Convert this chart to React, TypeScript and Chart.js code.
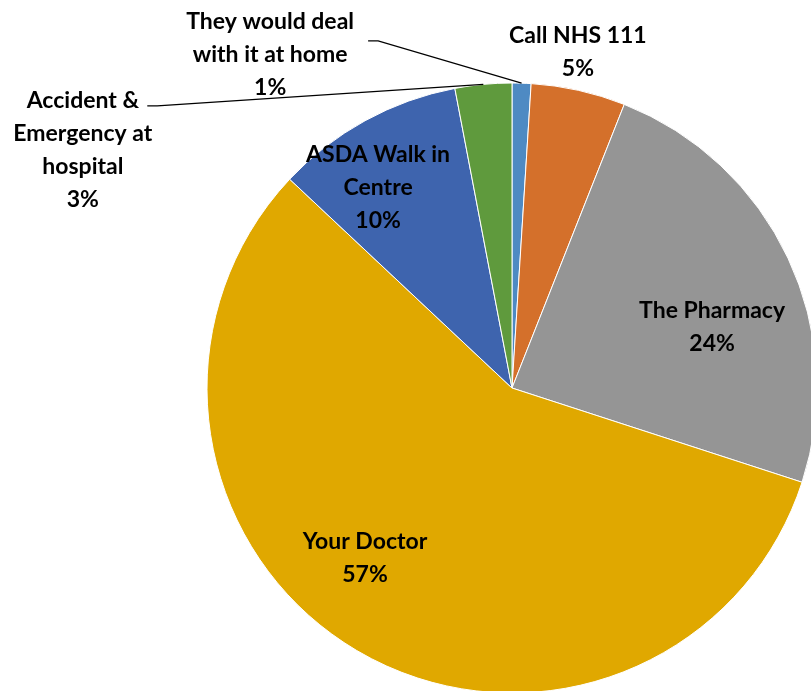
import React, { useEffect, useRef } from "react";
import { Chart, registerables } from "chart.js";

Chart.register(...registerables);

const categories = [
  "They would deal with it at home",
  "Call NHS 111",
  "The Pharmacy",
  "Your Doctor",
  "ASDA Walk in Centre",
  "Accident & Emergency at hospital",
];
const values = [1, 5, 24, 57, 10, 3];
const labelLines = [
  ["They would deal", "with it at home", "1%"],
  ["Call NHS 111", "5%"],
  ["The Pharmacy", "24%"],
  ["Your Doctor", "57%"],
  ["ASDA Walk in", "Centre", "10%"],
  ["Accident &", "Emergency at", "hospital", "3%"],
];
const colors = ["#4E8AC3", "#D4702B", "#959595", "#E0A800", "#3E64AE", "#5F9A3D"];

// label layout (fractions of radius relative to pie centre)
const labelPos = [
  { x: -0.793, y: -1.092, lx: -0.439, ly: -1.138, side: -1 },
  { x: 0.216, y: -1.102 },
  { x: 0.656, y: -0.2 },
  { x: -0.482, y: 0.557 },
  { x: -0.439, y: -0.656 },
  { x: -1.407, y: -0.78, lx: -1.163, ly: -0.925, side: -1 },
];

const labelPlugin = {
  id: "pieLabels",
  afterDatasetsDraw(chart: any) {
    const ctx = chart.ctx;
    const meta = chart.getDatasetMeta(0);
    ctx.save();
    meta.data.forEach((arc: any, i: number) => {
      const { x: cx, y: cy, outerRadius: r, startAngle, endAngle } = arc.getProps(
        ["x", "y", "outerRadius", "startAngle", "endAngle"],
        true
      );
      const p = labelPos[i];
      if (p.lx !== undefined) {
        const mid = (startAngle + endAngle) / 2;
        const ex = cx + Math.cos(mid) * r;
        const ey = cy + Math.sin(mid) * r;
        const sx = cx + p.lx * r;
        const sy = cy + p.ly * r;
        ctx.beginPath();
        ctx.strokeStyle = "#000";
        ctx.lineWidth = 1.2;
        ctx.moveTo(sx - 10, sy);
        ctx.lineTo(sx, sy);
        ctx.lineTo(ex, ey);
        ctx.stroke();
      }
      const lines = labelLines[i];
      const lh = 33;
      const tx = cx + p.x * r;
      const ty = cy + p.y * r;
      ctx.fillStyle = "#000";
      ctx.font = "bold 23px Lato, 'Open Sans', sans-serif";
      ctx.textAlign = "center";
      ctx.textBaseline = "middle";
      lines.forEach((t, k) => {
        ctx.fillText(t, tx, ty + (k - (lines.length - 1) / 2) * lh);
      });
    });
    ctx.restore();
  },
};

export default function App() {
  const ref = useRef<HTMLCanvasElement>(null);
  useEffect(() => {
    const chart = new Chart(ref.current!, {
      type: "pie",
      data: {
        labels: categories,
        datasets: [
          {
            data: values,
            backgroundColor: colors,
            borderColor: "#ffffff",
            borderWidth: 1,
            clip: false as any,
          },
        ],
      },
      options: {
        animation: false,
        responsive: true,
        maintainAspectRatio: false,
        radius: 305,
        layout: { padding: { left: 213, top: 85, right: 0, bottom: 0 } },
        plugins: { legend: { display: false }, tooltip: { enabled: false } },
      } as any,
      plugins: [labelPlugin],
    });
    return () => chart.destroy();
  }, []);
  return (
    <div style={{ position: "fixed", left: 0, top: 0, width: 811, height: 691, background: "#fff" }}>
      <canvas ref={ref} />
    </div>
  );
}
